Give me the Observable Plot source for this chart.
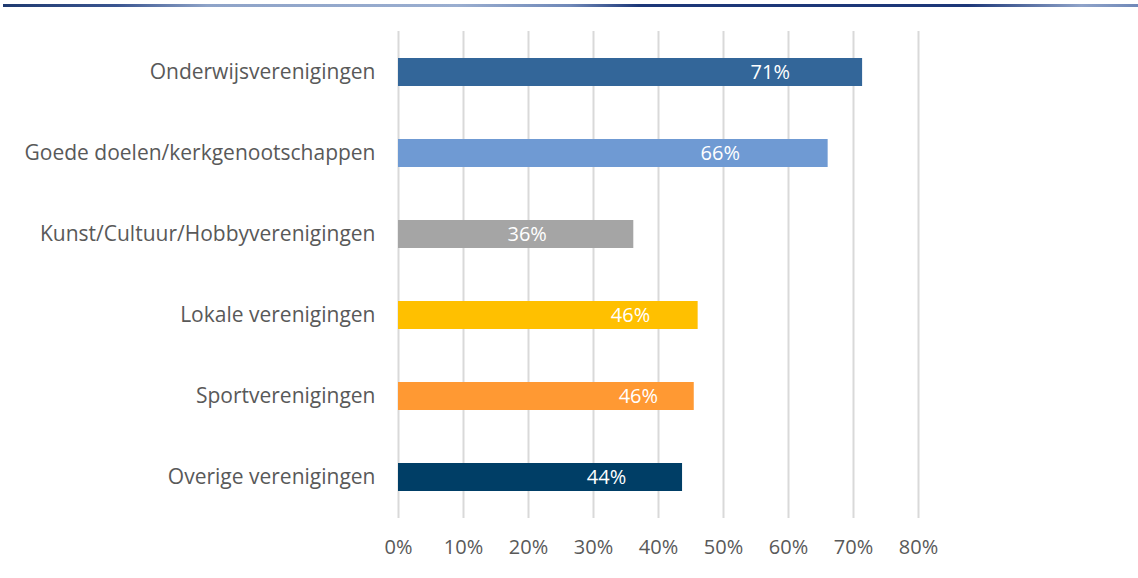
<!DOCTYPE html>
<html>
<head>
<meta charset="utf-8">
<script src="https://cdn.jsdelivr.net/npm/d3@7"></script>
<script src="https://cdn.jsdelivr.net/npm/@observablehq/plot@0.6"></script>
<style>
  html, body { margin: 0; padding: 0; background: #fff; }
  #wrap { position: relative; width: 1138px; height: 578px; overflow: hidden; }
  #topline { position: absolute; left: 3px; top: 4px; width: 1135px; height: 3px;
    background: linear-gradient(to right, #1f3a70 0%, #3a5590 10%, #8ea3c8 18%, #9aaed0 40%, #6f88b8 50%, #1c3778 56%, #1c3778 85%, #8fa3c9 95%, #6f88b8 100%); }
  svg { position: absolute; left: 0; top: 0; }
</style>
</head>
<body>
<div id="wrap"><div id="topline"></div></div>
<script>
const categories = [
  "Onderwijsverenigingen",
  "Goede doelen/kerkgenootschappen",
  "Kunst/Cultuur/Hobbyverenigingen",
  "Lokale verenigingen",
  "Sportverenigingen",
  "Overige verenigingen"
];
const values = [0.714, 0.661, 0.362, 0.461, 0.455, 0.437];
const valueLabels = ["71%", "66%", "36%", "46%", "46%", "44%"];
const labelAt = [0.572, 0.495, 0.198, 0.357, 0.369, 0.320];
const colors = ["#336699", "#6f9ad3", "#a5a5a5", "#ffc000", "#ff9933", "#003e66"];
const xTicks = [0, 0.1, 0.2, 0.3, 0.4, 0.5, 0.6, 0.7, 0.8];

const data = categories.map((c, i) => ({
  cat: c, v: values[i], label: valueLabels[i], lx: labelAt[i], color: colors[i]
}));

const font = "'Open Sans', sans-serif";

const chart = Plot.plot({
  width: 1138,
  height: 578,
  marginLeft: 398,
  marginRight: 220,
  marginTop: 31,
  marginBottom: 60,
  style: { fontFamily: font, fontSize: "20px", color: "#595959", background: "transparent" },
  x: { domain: [0, 0.8], ticks: xTicks, tickFormat: d => Math.round(d * 100) + "%", label: null },
  y: { domain: categories, paddingInner: 0.654, paddingOuter: 0.327, label: null },
  marks: [
    Plot.ruleX(xTicks, { stroke: "#d9d9d9", strokeWidth: 2 }),
    Plot.barX(data, { x: "v", y: "cat", fill: "color" }),
    Plot.text(data, { x: "lx", y: "cat", text: "label", fill: "white", fontSize: 20, fontFamily: font }),
    Plot.axisX({ ticks: xTicks, tickFormat: d => Math.round(d * 100) + "%", tickSize: 0, tickPadding: 21, fontSize: 20, fill: "#595959", label: null }),
    Plot.axisY({ tickSize: 0, tickPadding: 23, fontSize: 21, fill: "#595959", label: null })
  ]
});
document.getElementById("wrap").appendChild(chart);
</script>
</body>
</html>
